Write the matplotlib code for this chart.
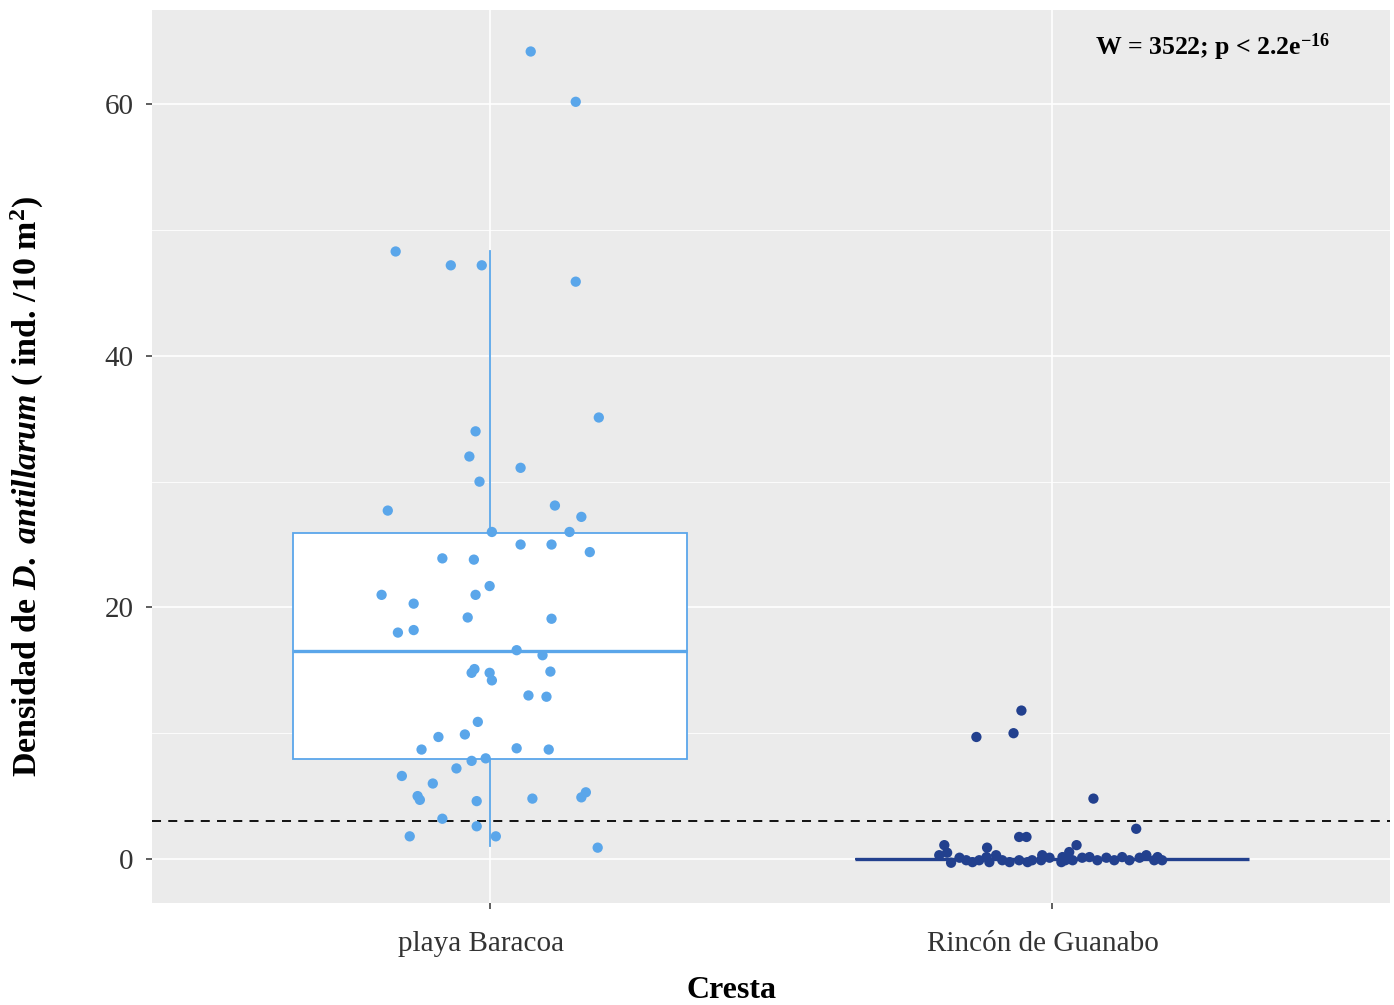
import matplotlib
matplotlib.use("Agg")
import matplotlib.pyplot as plt
import matplotlib.transforms as mtransforms
import numpy as np

plt.rcParams['font.family'] = ['Liberation Serif', 'DejaVu Serif']
plt.rcParams['mathtext.fontset'] = 'custom'
plt.rcParams['mathtext.rm'] = 'Liberation Serif:bold'
plt.rcParams['mathtext.bf'] = 'Liberation Serif:bold'
plt.rcParams['mathtext.it'] = 'Liberation Serif:italic:bold'

sitios = ["playa Baracoa", "Rincón de Guanabo"]

# playa Baracoa : décalage du jitter (unités de catégorie) et densité
baracoa_jit = [0.073, 0.153, -0.167, -0.069, -0.014, 0.153, 0.194, -0.025, -0.036, 0.055,
               -0.018, -0.181, 0.116, 0.163, 0.004, 0.142, 0.055, 0.110, 0.178, -0.084,
               -0.028, 0.000, -0.192, -0.025, -0.135, -0.039, 0.110, -0.163, -0.135, 0.048,
               0.094, -0.027, -0.032, 0.000, 0.004, 0.108, 0.069, 0.101, -0.021, -0.091,
               -0.044, -0.121, 0.048, 0.105, -0.032, -0.007, -0.059, -0.156, -0.101, -0.128,
               -0.124, -0.023, 0.076, 0.163, 0.171, -0.084, -0.023, -0.142, 0.011, 0.192]
baracoa_dens = [64.2, 60.2, 48.3, 47.2, 47.2, 45.9, 35.1, 34.0, 32.0, 31.1,
                30.0, 27.7, 28.1, 27.2, 26.0, 26.0, 25.0, 25.0, 24.4, 23.9,
                23.8, 21.7, 21.0, 21.0, 20.3, 19.2, 19.1, 18.0, 18.2, 16.6,
                16.2, 15.1, 14.8, 14.8, 14.2, 14.9, 13.0, 12.9, 10.9, 9.7,
                9.9, 8.7, 8.8, 8.7, 7.8, 8.0, 7.2, 6.6, 6.0, 5.0,
                4.7, 4.6, 4.8, 4.9, 5.3, 3.2, 2.6, 1.8, 1.8, 0.9]

# Rincón de Guanabo
guanabo_jit = [-0.055, -0.135, -0.069, 0.073, 0.149, -0.059, -0.046, -0.192, -0.116, 0.043,
               0.030, -0.201, -0.187, -0.180, -0.165, -0.153, -0.142, -0.130, -0.117, -0.100,
               -0.089, -0.076, -0.059, -0.036, -0.020, -0.018, -0.005, 0.018, 0.036, 0.053,
               0.066, 0.080, 0.096, 0.110, 0.124, 0.137, 0.155, 0.167, 0.181, 0.187,
               0.195, 0.016, 0.023, -0.044, -0.112]
guanabo_dens = [11.8, 9.7, 10.0, 4.8, 2.4, 1.75, 1.75, 1.1, 0.9, 1.1,
                0.55, 0.3, 0.5, -0.3, 0.1, -0.1, -0.25, -0.1, 0.15, 0.3,
                -0.1, -0.25, -0.1, -0.1, -0.1, 0.3, 0.1, 0.15, -0.1, 0.1,
                0.15, -0.1, 0.1, -0.1, 0.15, -0.1, 0.1, 0.3, -0.1, 0.15,
                -0.1, -0.25, -0.1, -0.25, -0.25]

# statistiques des boîtes
stats_baracoa = dict(q1=7.95, med=16.5, q3=25.9, whislo=1.0, whishi=48.3)
stats_guanabo = dict(q1=0.0, med=0.0, q3=0.0, whislo=0.0, whishi=0.0)
seuil = 3.0

c_baracoa = '#5AA6EA'
c_guanabo = '#22408E'

fig = plt.figure(figsize=(13.94, 10.05), dpi=100)
ax = fig.add_axes([152/1394, 1-903/1005, 1238/1394, 893/1005])
ax.set_facecolor('#EBEBEB')
for s in ax.spines.values():
    s.set_visible(False)

# boîtes
for st, pos, col in [(stats_baracoa, 1, c_baracoa), (stats_guanabo, 2, c_guanabo)]:
    ax.bxp([st], positions=[pos], widths=0.7, patch_artist=True, showfliers=False, showcaps=False,
           manage_ticks=False,
           boxprops=dict(facecolor='white', edgecolor=col, lw=1.3),
           whiskerprops=dict(color=col, lw=1.3),
           medianprops=dict(color=col, lw=2.4),
           zorder=2)

ax.axhline(seuil, color='black', lw=1.3, ls=(0, (5, 4)), zorder=3)

ax.scatter(1 + np.array(baracoa_jit), baracoa_dens, s=55, color=c_baracoa, edgecolors='none', zorder=4)
ax.scatter(2 + np.array(guanabo_jit), guanabo_dens, s=55, color=c_guanabo, edgecolors='none', zorder=4)

ax.set_xlim(0.4, 2.6)
ax.set_ylim(-3.5, 67.5)
ax.set_xticks([1, 2])
ax.set_xticklabels(sitios)
ax.set_yticks([0, 20, 40, 60])
ax.set_yticks([10, 30, 50], minor=True)
ax.grid(which='major', color='white', lw=1.2)
ax.grid(which='minor', axis='y', color='white', lw=0.6)
ax.set_axisbelow(True)
ax.tick_params(which='major', length=4.5, width=1.1, color='#333333',
               labelsize=21, labelcolor='#333333')
ax.tick_params(axis='x', pad=16)
ax.tick_params(axis='y', pad=9)
ax.tick_params(which='minor', length=0)

for lbl in ax.get_xticklabels():
    lbl.set_transform(lbl.get_transform() + mtransforms.ScaledTranslation(-9/100, 0, fig.dpi_scale_trans))

ax.text(2.075, 64.5, r"W = 3522; p < 2.2e$^{-16}$", fontsize=18.5, fontweight='bold',
        ha='left', va='center')

fig.text(27/1394, 1-487/1005, r"Densidad de $\mathit{D.}$ $\mathit{antillarum}$ ( ind. /10 m$^2$)",
         rotation=90, ha='center', va='center', fontsize=24.5, fontweight='bold')
fig.text(732/1394, 1-990/1005, "Cresta", ha='center', va='center', fontsize=23, fontweight='bold')

fig.savefig("out.png", dpi=100)
